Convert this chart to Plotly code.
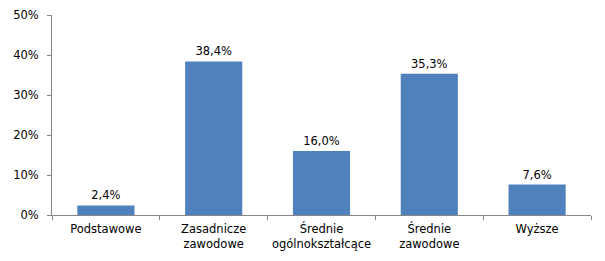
import plotly.graph_objects as go

categories = ["Podstawowe", "Zasadnicze<br>zawodowe", "Średnie<br>ogólnokształcące", "Średnie<br>zawodowe", "Wyższe"]
values = [2.4, 38.4, 16.0, 35.3, 7.6]
y_ticks = [0, 10, 20, 30, 40, 50]

labels = [f"{v:.1f}".replace(".", ",") + "%" for v in values]
y_tick_text = [f"{t}%" for t in y_ticks]

font = dict(family="DejaVu Sans", size=11.5, color="#000000")

fig = go.Figure(go.Bar(
    x=categories, y=values, text=labels, textposition="outside",
    textfont=font, marker=dict(color="#4F81BD", line=dict(width=0)),
    cliponaxis=False,
))
fig.update_layout(
    width=605, height=261, margin=dict(l=52, r=14, t=15, b=46),
    plot_bgcolor="white", paper_bgcolor="white", font=font,
    bargap=0.47, showlegend=False,
)
fig.update_xaxes(
    tickson="boundaries", ticks="outside", ticklen=4, tickcolor="#868686",
    showline=True, linecolor="#868686", linewidth=1, showgrid=False,
    tickfont=font, ticklabelstandoff=3, tickangle=0, automargin=False,
)
fig.update_yaxes(
    range=[0, 50], tickvals=y_ticks, ticktext=y_tick_text, ticks="outside", ticklen=4,
    tickcolor="#868686", showline=True, linecolor="#868686", linewidth=1,
    showgrid=False, zeroline=False, tickfont=font, ticklabelstandoff=6,
    automargin=False,
)
fig.write_html("out.html")
